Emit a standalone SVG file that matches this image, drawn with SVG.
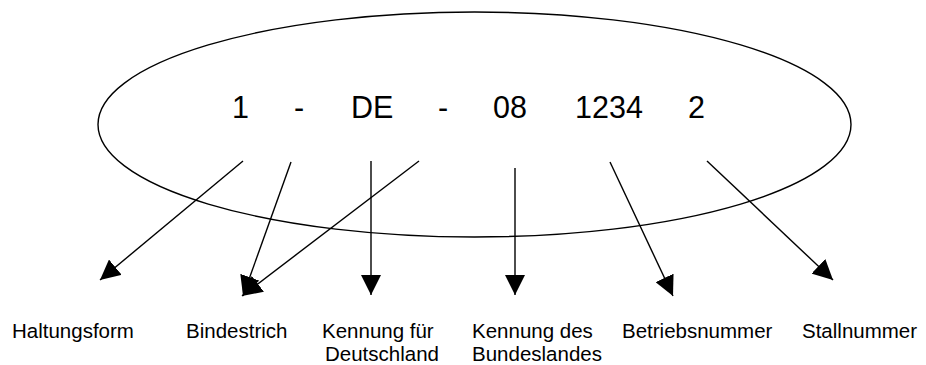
<svg xmlns="http://www.w3.org/2000/svg" width="926" height="365" viewBox="0 0 926 365">
<style>
.main{font-family:"Liberation Sans",Arial,sans-serif;font-size:30.5px;fill:#000}
.lbl{font-family:"Liberation Sans",Arial,sans-serif;font-size:20.5px;fill:#000}
.conn{stroke:#000;stroke-width:1.4;fill:none;marker-end:url(#ah)}
</style>
<defs>
<marker id="ah" viewBox="0 0 20 20" markerWidth="20" markerHeight="20" refX="20" refY="10" orient="auto" markerUnits="userSpaceOnUse">
<path d="M0,0 L20,10 L0,20 z" fill="#000"/>
</marker>
</defs>
<rect width="926" height="365" fill="#fff"/>
<g id="code">
<ellipse cx="474.5" cy="124.5" rx="376.5" ry="112.5" fill="none" stroke="#000" stroke-width="1.4"/>
<text class="main" x="232" y="118">1</text>
<text class="main" x="294" y="118">-</text>
<text class="main" x="351" y="118">DE</text>
<text class="main" x="438" y="118">-</text>
<text class="main" x="493" y="118">08</text>
<text class="main" x="575" y="118">1234</text>
<text class="main" x="688" y="118">2</text>
</g>
<g id="connectors">
<line class="conn" x1="243" y1="161" x2="100" y2="280"/>
<line class="conn" x1="291" y1="162" x2="243" y2="296"/>
<line class="conn" x1="419" y1="161" x2="242" y2="296"/>
<line class="conn" x1="371" y1="161" x2="371" y2="295"/>
<line class="conn" x1="515" y1="168" x2="515" y2="295"/>
<line class="conn" x1="610" y1="162" x2="673" y2="296"/>
<line class="conn" x1="707" y1="161" x2="833" y2="280"/>
</g>
<g id="haltungsform"><text class="lbl" x="12" y="338">Haltungsform</text></g>
<g id="bindestrich"><text class="lbl" x="186" y="338">Bindestrich</text></g>
<g id="kennung-deutschland"><text class="lbl" x="322" y="338">Kennung für</text><text class="lbl" x="325" y="361">Deutschland</text></g>
<g id="kennung-bundesland"><text class="lbl" x="472" y="338">Kennung des</text><text class="lbl" x="472" y="361">Bundeslandes</text></g>
<g id="betriebsnummer"><text class="lbl" x="622" y="338">Betriebsnummer</text></g>
<g id="stallnummer"><text class="lbl" x="802" y="338">Stallnummer</text></g>
</svg>
